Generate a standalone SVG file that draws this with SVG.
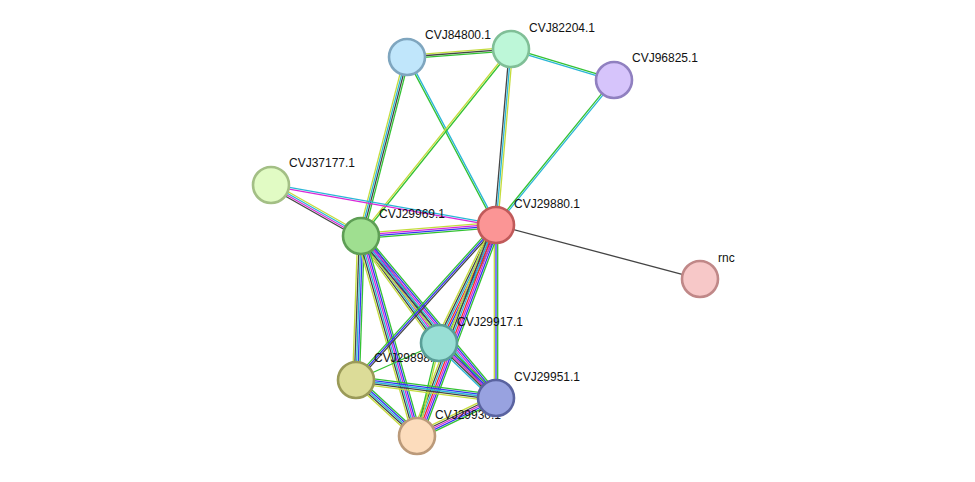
<svg xmlns="http://www.w3.org/2000/svg" width="975" height="482" viewBox="0 0 975 482">
<style>
line{stroke-width:1.3;fill:none}
.g{stroke:#33c233}.b{stroke:#3535f0}.c{stroke:#2ab6d6}.m{stroke:#d828d8}.k{stroke:#444}.y{stroke:#c4dc3c}.r{stroke:#f02a2a}
circle{stroke-width:2.6}
text{font-family:"Liberation Sans",Arial,sans-serif;font-size:12px;fill:#111}
</style>
<rect width="975" height="482" fill="#fff"/>
<g id="edges">
<g transform="translate(407,57) rotate(-4.40)"><line class="y" x2="104.3" y1="-1.7" y2="-1.7"/><line class="k" x2="104.3"/><line class="g" x2="104.3" y1="1.7" y2="1.7"/></g>
<g transform="translate(407,57) rotate(104.41)"><line class="g" x2="184.8" y1="-2.55" y2="-2.55"/><line class="k" x2="184.8" y1="-0.85" y2="-0.85"/><line class="c" x2="184.8" y1="0.85" y2="0.85"/><line class="y" x2="184.8" y1="2.55" y2="2.55"/></g>
<g transform="translate(407,57) rotate(62.08)"><line class="g" x2="190.1" y1="0.85" y2="0.85"/><line class="c" x2="190.1" y1="-0.85" y2="-0.85"/></g>
<g transform="translate(511,49) rotate(16.75)"><line class="g" x2="107.6" y1="-0.85" y2="-0.85"/><line class="c" x2="107.6" y1="0.85" y2="0.85"/></g>
<g transform="translate(511,49) rotate(128.73)"><line class="g" x2="239.7" y1="-0.85" y2="-0.85"/><line class="y" x2="239.7" y1="0.85" y2="0.85"/></g>
<g transform="translate(511,49) rotate(94.87)"><line class="k" x2="176.6" y1="1.7" y2="1.7"/><line class="c" x2="176.6"/><line class="y" x2="176.6" y1="-1.7" y2="-1.7"/></g>
<g transform="translate(614,80) rotate(129.14)"><line class="g" x2="187" y1="0.85" y2="0.85"/><line class="c" x2="187" y1="-0.85" y2="-0.85"/></g>
<g transform="translate(271,185) rotate(10.08)"><line class="m" x2="228.5" y1="0.85" y2="0.85"/><line class="c" x2="228.5" y1="-0.85" y2="-0.85"/></g>
<g transform="translate(271,185) rotate(29.54)"><line class="k" x2="103.4" y1="2.55" y2="2.55"/><line class="m" x2="103.4" y1="0.85" y2="0.85"/><line class="c" x2="103.4" y1="-0.85" y2="-0.85"/><line class="y" x2="103.4" y1="-2.55" y2="-2.55"/></g>
<g transform="translate(361,236) rotate(-4.66)"><line class="y" x2="135.4" y1="-2.55" y2="-2.55"/><line class="m" x2="135.4" y1="-0.85" y2="-0.85"/><line class="b" x2="135.4" y1="0.85" y2="0.85"/><line class="g" x2="135.4" y1="2.55" y2="2.55"/></g>
<g transform="translate(496,225) rotate(14.83)"><line class="k" x2="211"/></g>
<g transform="translate(361,236) rotate(53.90)"><line class="g" x2="132.4" y1="-4.25" y2="-4.25"/><line class="b" x2="132.4" y1="-2.55" y2="-2.55"/><line class="m" x2="132.4" y1="-0.85" y2="-0.85"/><line class="c" x2="132.4" y1="0.85" y2="0.85"/><line class="k" x2="132.4" y1="2.55" y2="2.55"/><line class="y" x2="132.4" y1="4.25" y2="4.25"/></g>
<g transform="translate(361,236) rotate(50.19)"><line class="g" x2="210.9" y1="-4.25" y2="-4.25"/><line class="b" x2="210.9" y1="-2.55" y2="-2.55"/><line class="m" x2="210.9" y1="-0.85" y2="-0.85"/><line class="c" x2="210.9" y1="0.85" y2="0.85"/><line class="k" x2="210.9" y1="2.55" y2="2.55"/><line class="y" x2="210.9" y1="4.25" y2="4.25"/></g>
<g transform="translate(361,236) rotate(91.99)"><line class="g" x2="144.1" y1="-3.4" y2="-3.4"/><line class="b" x2="144.1" y1="-1.7" y2="-1.7"/><line class="c" x2="144.1"/><line class="k" x2="144.1" y1="1.7" y2="1.7"/><line class="y" x2="144.1" y1="3.4" y2="3.4"/></g>
<g transform="translate(361,236) rotate(74.36)"><line class="g" x2="207.7" y1="-4.25" y2="-4.25"/><line class="b" x2="207.7" y1="-2.55" y2="-2.55"/><line class="m" x2="207.7" y1="-0.85" y2="-0.85"/><line class="c" x2="207.7" y1="0.85" y2="0.85"/><line class="k" x2="207.7" y1="2.55" y2="2.55"/><line class="y" x2="207.7" y1="4.25" y2="4.25"/></g>
<g transform="translate(496,225) rotate(115.78)"><line class="g" x2="131" y1="-4.25" y2="-4.25"/><line class="b" x2="131" y1="-2.55" y2="-2.55"/><line class="r" x2="131" y1="-0.85" y2="-0.85"/><line class="c" x2="131" y1="0.85" y2="0.85"/><line class="k" x2="131" y1="2.55" y2="2.55"/><line class="y" x2="131" y1="4.25" y2="4.25"/></g>
<g transform="translate(496,225) rotate(132.09)"><line class="k" x2="208.9" y1="-1.7" y2="-1.7"/><line class="b" x2="208.9"/><line class="g" x2="208.9" y1="1.7" y2="1.7"/></g>
<g transform="translate(496,225) rotate(90)"><line class="g" x2="173" y1="-1.7" y2="-1.7"/><line class="b" x2="173"/><line class="y" x2="173" y1="1.7" y2="1.7"/></g>
<g transform="translate(496,225) rotate(110.53)"><line class="g" x2="225.3" y1="-5.1" y2="-5.1"/><line class="b" x2="225.3" y1="-3.4" y2="-3.4"/><line class="m" x2="225.3" y1="-1.7" y2="-1.7"/><line class="r" x2="225.3"/><line class="c" x2="225.3" y1="1.7" y2="1.7"/><line class="k" x2="225.3" y1="3.4" y2="3.4"/><line class="y" x2="225.3" y1="5.1" y2="5.1"/></g>
<g transform="translate(439,343) rotate(43.98)"><line class="g" x2="79.2" y1="-3.4" y2="-3.4"/><line class="b" x2="79.2" y1="-1.7" y2="-1.7"/><line class="m" x2="79.2"/><line class="k" x2="79.2" y1="1.7" y2="1.7"/><line class="c" x2="79.2" y1="3.4" y2="3.4"/></g>
<g transform="translate(439,343) rotate(155.97)"><line class="g" x2="90.9"/></g>
<g transform="translate(439,343) rotate(103.31)"><line class="y" x2="95.6" y1="-0.85" y2="-0.85"/><line class="g" x2="95.6" y1="0.85" y2="0.85"/></g>
<g transform="translate(356,380) rotate(7.33)"><line class="g" x2="141.2" y1="-3.4" y2="-3.4"/><line class="b" x2="141.2" y1="-1.7" y2="-1.7"/><line class="c" x2="141.2"/><line class="k" x2="141.2" y1="1.7" y2="1.7"/><line class="y" x2="141.2" y1="3.4" y2="3.4"/></g>
<g transform="translate(356,380) rotate(42.55)"><line class="g" x2="82.8" y1="-3.4" y2="-3.4"/><line class="b" x2="82.8" y1="-1.7" y2="-1.7"/><line class="c" x2="82.8"/><line class="k" x2="82.8" y1="1.7" y2="1.7"/><line class="y" x2="82.8" y1="3.4" y2="3.4"/></g>
<g transform="translate(496,398) rotate(154.31)"><line class="g" x2="87.7" y1="-3.4" y2="-3.4"/><line class="b" x2="87.7" y1="-1.7" y2="-1.7"/><line class="m" x2="87.7"/><line class="k" x2="87.7" y1="1.7" y2="1.7"/><line class="y" x2="87.7" y1="3.4" y2="3.4"/></g>
</g>
<g id="CVJ84800.1"><circle cx="407" cy="57" r="18" fill="#c0e6fb" stroke="#7fa6bf"/><text x="425" y="39">CVJ84800.1</text></g>
<g id="CVJ82204.1"><circle cx="511" cy="49" r="18" fill="#bdf7d8" stroke="#80bf97"/><text x="529" y="32">CVJ82204.1</text></g>
<g id="CVJ96825.1"><circle cx="614" cy="80" r="18" fill="#d6c4fb" stroke="#9080c0"/><text x="632" y="62">CVJ96825.1</text></g>
<g id="CVJ37177.1"><circle cx="271" cy="185" r="18" fill="#e1fbc4" stroke="#a3bf85"/><text x="289" y="167">CVJ37177.1</text></g>
<g id="CVJ29969.1"><circle cx="361" cy="236" r="18" fill="#9fdf90" stroke="#5e9e55"/><text x="379" y="218">CVJ29969.1</text></g>
<g id="CVJ29880.1"><circle cx="496" cy="225" r="18" fill="#fb9595" stroke="#c05a5a"/><text x="514" y="208">CVJ29880.1</text></g>
<g id="rnc"><circle cx="700" cy="279" r="18" fill="#f7c8c8" stroke="#c08888"/><text x="718" y="262">rnc</text></g>
<g id="CVJ29898.1"><circle cx="356" cy="380" r="18" fill="#dcdc98" stroke="#9a9a58"/><text x="374" y="362">CVJ29898.1</text></g>
<g id="CVJ29917.1"><circle cx="439" cy="343" r="18" fill="#98dfd5" stroke="#5a9f98"/><text x="457" y="326">CVJ29917.1</text></g>
<g id="CVJ29930.1"><circle cx="417" cy="436" r="18" fill="#fcdcbc" stroke="#bb9a7a"/><text x="435" y="419">CVJ29930.1</text></g>
<g id="CVJ29951.1"><circle cx="496" cy="398" r="18" fill="#98a2e0" stroke="#5a63a0"/><text x="514" y="381">CVJ29951.1</text></g>
</svg>
